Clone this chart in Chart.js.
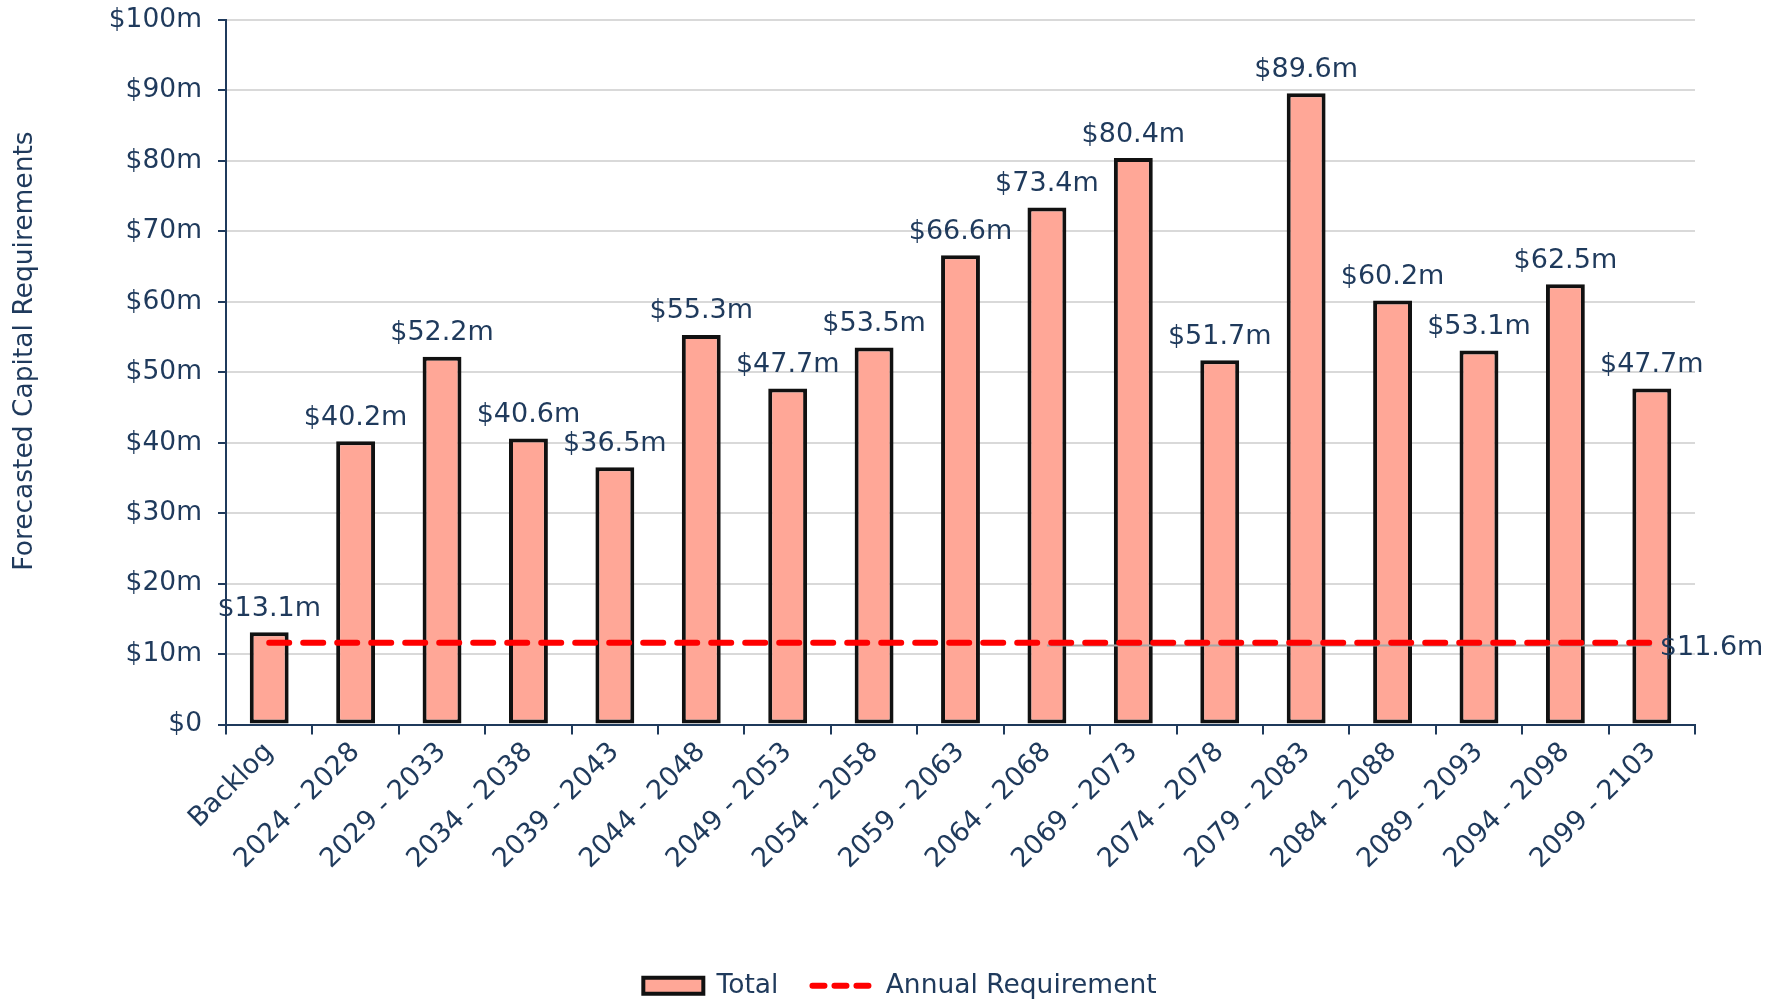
<!DOCTYPE html>
<html>
<head>
<meta charset="utf-8">
<script src="https://cdn.jsdelivr.net/npm/chart.js@4.4.0/dist/chart.umd.min.js"></script>
<style>
  html, body { margin: 0; padding: 0; background: #fff; }
  #wrap { width: 1792px; height: 1001px; }
</style>
</head>
<body>
<div id="wrap"><canvas id="myChart" width="1792" height="1001"></canvas></div>
<script>
// periods along the x axis
const periods = ['Backlog', '2024 - 2028', '2029 - 2033', '2034 - 2038', '2039 - 2043', '2044 - 2048',
  '2049 - 2053', '2054 - 2058', '2059 - 2063', '2064 - 2068', '2069 - 2073', '2074 - 2078',
  '2079 - 2083', '2084 - 2088', '2089 - 2093', '2094 - 2098', '2099 - 2103'];
// total forecast per period ($m)
const totals = [13.1, 40.2, 52.2, 40.6, 36.5, 55.3, 47.7, 53.5, 66.6, 73.4, 80.4, 51.7, 89.6, 60.2, 53.1, 62.5, 47.7];
// annual requirement ($m)
const annualReq = [11.6, 11.6, 11.6, 11.6, 11.6, 11.6, 11.6, 11.6, 11.6, 11.6, 11.6, 11.6, 11.6, 11.6, 11.6, 11.6, 11.6];
// thin grey leader line under the right part of the annual line
const leader = [null, null, null, null, null, null, null, null, null, 11.2, 11.2, 11.2, 11.2, 11.2, 11.2, 11.2, 11.2];

const navy = '#1f3a5c';
const font = 'DejaVu Sans';
const yTitle = 'Forecasted Capital Requirements';

// labels on top of bars, at the end of the line, and the y title
const valueLabels = {
  id: 'valueLabels',
  beforeDraw(chart) {
    // legend sits a bit right of the page centre in the original
    const lg = chart.legend;
    lg.right = 1800 - lg.left;
  },
  afterDatasetsDraw(chart) {
    const ctx = chart.ctx;
    ctx.save();
    ctx.font = '27px "' + font + '"';
    ctx.fillStyle = navy;
    const bars = chart.getDatasetMeta(0).data;
    ctx.textAlign = 'center';
    ctx.textBaseline = 'bottom';
    bars.forEach((b, i) => {
      ctx.fillText('$' + totals[i].toFixed(1) + 'm', b.x, b.y - 10);
    });
    const pts = chart.getDatasetMeta(1).data;
    const last = pts[pts.length - 1];
    ctx.textAlign = 'left';
    ctx.textBaseline = 'middle';
    ctx.fillText('$' + annualReq[annualReq.length - 1].toFixed(1) + 'm', last.x + 8, last.y + 5);

    ctx.font = '26.5px "' + font + '"';
    ctx.translate(25, 351);
    ctx.rotate(-Math.PI / 2);
    ctx.textAlign = 'center';
    ctx.fillText(yTitle, 0, 0);
    ctx.restore();
  }
};

var ctx = document.getElementById('myChart').getContext('2d');
var myChart = new Chart(ctx, {
  type: 'bar',
  data: {
    labels: periods,
    datasets: [{
      label: 'Total',
      data: totals,
      backgroundColor: '#ffa797',
      borderColor: '#111111',
      borderWidth: 4,
      borderSkipped: false,
      categoryPercentage: 1,
      barPercentage: 0.45,
      order: 3
    }, {
      type: 'line',
      label: 'Annual Requirement',
      data: annualReq,
      borderColor: '#ff0000',
      backgroundColor: '#ff0000',
      borderWidth: 6,
      borderDash: [20, 14],
      borderCapStyle: 'round',
      pointRadius: 0,
      fill: false,
      order: 1
    }, {
      type: 'line',
      label: 'leader',
      data: leader,
      borderColor: '#a6a6a6',
      borderWidth: 2,
      pointRadius: 0,
      fill: false,
      order: 2
    }]
  },
  options: {
    responsive: false,
    animation: false,
    layout: { padding: { top: 8, right: 97, left: 0, bottom: -8 } },
    plugins: {
      tooltip: { enabled: false },
      legend: {
        position: 'bottom',
        labels: {
          color: navy,
          font: { family: font, size: 26.5 },
          usePointStyle: true,
          pointStyleWidth: 60,
          boxHeight: 16,
          padding: 34,
          filter: item => item.datasetIndex < 2,
          generateLabels(chart) {
            const items = Chart.defaults.plugins.legend.labels.generateLabels(chart);
            items.sort((a, b) => a.datasetIndex - b.datasetIndex);
            items[0].pointStyle = 'rect';
            items[0].lineWidth = 4;
            items[1].pointStyle = 'line';
            items[1].lineDash = [12, 10];
            items[1].lineCap = 'round';
            items[1].lineWidth = 6;
            return items;
          }
        }
      }
    },
    scales: {
      x: {
        offset: true,
        grid: { display: true, drawOnChartArea: false, offset: true, color: navy, lineWidth: 2, tickLength: 10 },
        border: { color: navy, width: 2 },
        ticks: { color: navy, font: { family: font, size: 27 }, minRotation: 45, maxRotation: 45, padding: 2 },
        afterFit(scale) { scale.height = 214; }
      },
      y: {
        min: 0,
        max: 100,
        ticks: {
          stepSize: 10,
          color: navy,
          font: { family: font, size: 26.5 },
          padding: 16,
          callback: v => v === 0 ? '$0' : '$' + v + 'm'
        },
        grid: { color: '#d9d9d9', lineWidth: 2, tickColor: navy, tickLength: 8 },
        border: { color: navy, width: 2 },
        afterFit(scale) {
          scale.width = 226;
          scale.paddingTop = 20;
          scale.paddingBottom = 12;
        }
      }
    }
  },
  plugins: [valueLabels]
});

myChart.update();
</script>
</body>
</html>
